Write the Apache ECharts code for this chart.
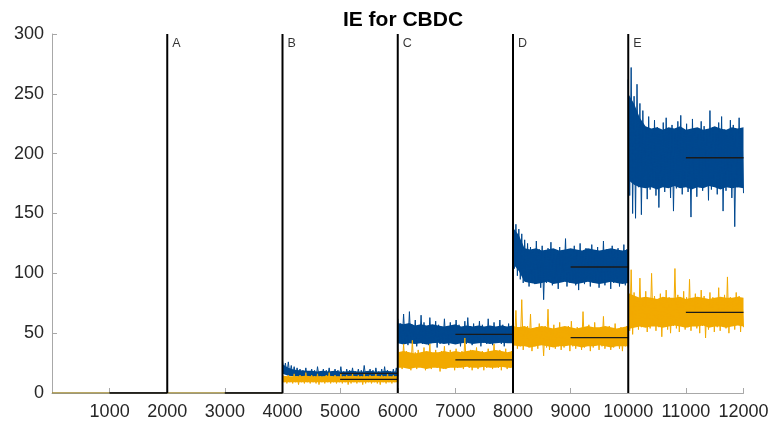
<!DOCTYPE html>
<html>
<head>
<meta charset="utf-8">
<script src="https://cdn.jsdelivr.net/npm/echarts@6/dist/echarts.min.js"></script>
<style>
  html, body { margin: 0; padding: 0; background: #fff; }
  #chart { width: 773px; height: 425px; }
</style>
</head>
<body>
<div id="chart"></div>
<script>
// Segment starts (each stage spans 2000 samples)
const segStarts = [0, 2000, 4000, 6000, 8000, 10000];
const segLength = 2000;

// Stage boundaries and their labels
const stageBounds = [2000, 4000, 6000, 8000, 10000];
const stageNames = ['A', 'B', 'C', 'D', 'E'];

// Axis ticks
const xTicks = [1000, 2000, 3000, 4000, 5000, 6000, 7000, 8000, 9000, 10000, 11000, 12000];
const yTicks = [0, 50, 100, 150, 200, 250, 300];

// Blue trace, one list per stage
const blue0 = [0, 0];
const blue1 = [0, 0];
const blue2 = [27,17,25,16,26,15,23,15,22,14,21,14,20,13,19,14,21,13,18,14,
               20,13,19,12,22,14,18,13,20,13,19,14,21,12,18,13,20,14,19,13,
               22,13,18,12,20,14,19,13,21,13,18,14,20,12,19,13,23,14,18,13,
               20,13,19,12,21,14,18,13,20,13,22,12,19,14,18,13,20,13,21,14];
const blue3 = [62,44,58,41,66,43,55,40,68,42,57,44,61,39,54,42,65,41,59,43,
               56,40,63,42,55,44,60,38,57,41,54,43,62,42,56,40,59,44,55,41,
               61,43,57,39,54,42,60,41,63,44,56,40,58,42,55,43,60,39,57,42,
               54,41,62,43,56,40,59,42,55,44,61,41,57,39,54,43,58,42,56,41];
const blue4 = [146,104,141,98,137,95,133,92,128,96,125,89,122,94,118,91,127,95,120,88,
               123,78,117,92,121,95,126,90,119,94,116,87,122,93,118,96,129,89,120,92,
               117,95,123,90,119,86,125,93,118,91,121,96,116,89,124,92,119,95,122,88,
               117,93,127,90,120,94,118,87,123,92,119,96,121,89,117,93,124,90,120,94];
const blue5 = [262,165,272,150,248,146,258,172,242,149,236,175,221,162,231,170,218,176,228,165,
               222,155,216,174,226,168,230,177,219,163,224,152,217,171,227,176,232,166,220,173,
               225,168,218,147,229,177,221,164,216,172,227,169,223,175,219,161,236,170,222,178,
               217,166,226,173,231,152,220,169,215,176,228,163,224,139,218,172,230,177,221,167];

// Orange trace, one list per stage
const orange0 = [0, 0];
const orange1 = [0, 0];
const orange2 = [16,9,14,8,15,9,13,8,16,9,14,7,15,9,14,8,17,9,13,8,
                 15,9,14,8,16,7,14,9,13,8,15,9,17,8,14,9,15,8,13,9,
                 16,8,14,9,15,7,14,8,16,9,13,8,15,9,14,7,16,8,14,9,
                 15,8,13,9,16,8,14,7,15,9,14,8,16,9,13,8,15,9,14,8];
const orange3 = [37,22,33,20,41,23,35,21,32,19,44,22,34,20,36,23,32,21,38,19,
                 34,22,41,20,33,23,36,21,32,18,35,22,39,20,33,21,36,23,32,19,
                 37,21,34,22,35,20,46,23,33,21,36,19,32,22,38,20,34,23,35,19,
                 33,21,37,22,35,20,41,23,33,21,36,19,32,22,37,20,34,21,35,22];
const orange4 = [62,40,69,37,55,39,78,36,53,40,56,38,66,35,52,39,55,37,58,41,
                 51,31,56,38,70,36,53,40,57,37,51,39,59,36,54,38,52,40,56,35,
                 60,39,53,37,55,40,51,36,68,38,54,41,57,35,52,38,59,40,53,36,
                 55,39,64,37,51,40,56,36,54,38,58,41,52,37,55,35,53,39,56,38];
const orange5 = [90,52,103,49,84,56,79,53,96,55,77,57,85,51,78,54,100,56,81,52,
                 76,55,83,47,79,57,86,53,80,50,77,56,104,54,82,51,78,57,85,53,
                 80,55,95,52,77,57,83,54,79,50,86,56,81,46,78,53,84,57,80,51,
                 76,55,88,52,79,57,82,54,97,50,80,56,77,53,84,57,81,51,78,55];

// Dense core of each trace (top / bottom every 100 samples, stages B-E)
const blueTop2 = [24,21,19.5,19,18.5,18.5,18,18.5,18,18.5,18,18,18.5,18,18,18.5,18,18,18.5,18,18];
const blueBot2 = [16,14.5,14,13.5,13.5,13.5,13.5,13.5,13.5,13.5,13.5,13.5,13.5,13.5,13.5,13.5,13.5,13.5,13.5,13.5,13.5];
const blueTop3 = [58.5,57.5,58.5,56.5,57.5,56.5,57.5,56.5,55.5,56.5,57.5,55.5,56.5,55.5,56.5,55.5,56.5,55.5,56.5,55.5,56.5];
const blueBot3 = [41.5,40.5,41.5,41,41.5,40.5,41.5,42,41,41.5,40.5,41.5,42,41,41.5,42,41,41.5,42,41.5,41.5];
const blueTop4 = [138,132,121,120,121,119,120,121,119,120,121,120,119,121,120,119,120,121,120,119,120];
const blueBot4 = [108,102,93,92,91,92,93,91,92,93,92,91,92,93,92,91,92,93,92,91,92];
const blueTop5 = [250,242,230,223,221,222,220,222,221,223,220,221,222,220,221,223,221,220,222,221,222];
const blueBot5 = [178,174,172,171,172,170,172,171,173,171,172,170,172,171,173,172,170,172,171,172,171];

const orangeTop2 = [14.5,14,14,14,14.5,14,14,14,14.5,14,14,14,14.5,14,14,14,14.5,14,14,14,14];
const orangeBot2 = [9,9,9,9,9,9,9,9,9,9,9,9,9,9,9,9,9,9,9,9,9];
const orangeTop3 = [34,35,34,33,34,35,34,34,35,34,35,34,35,36,35,34,35,36,35,34,35];
const orangeBot3 = [21,21,20,21,21,20,21,21,20,21,21,21,22,21,21,22,21,21,22,21,21];
const orangeTop4 = [56,55,56,54,55,56,55,54,55,56,55,54,55,56,55,55,56,55,54,55,56];
const orangeBot4 = [40,39,39,38,39,40,39,38,39,39,40,39,38,39,39,40,39,38,39,39,39];
const orangeTop5 = [83.5,81.5,79.5,80.5,79.5,78.5,80.5,79.5,79.5,80.5,78.5,79.5,80.5,79.5,78.5,79.5,80.5,79.5,79.5,80.5,79.5];
const orangeBot5 = [53.5,54.5,55.5,54.5,55.5,55.5,54.5,55.5,56.5,55.5,54.5,55.5,55.5,56.5,54.5,55.5,55.5,54.5,55.5,56.5,55.5];

// Steady-state means (second half of each stage)
const blueMeans = [0, 0, 16.4, 49, 105.3, 196.6];
const orangeMeans = [0, 0, 11.4, 27.6, 46.3, 67.4];

const blueSegs = [blue0, blue1, blue2, blue3, blue4, blue5];
const orangeSegs = [orange0, orange1, orange2, orange3, orange4, orange5];
const bandStages = [2, 3, 4, 5];
const blueCore = [[blueTop2, blueBot2], [blueTop3, blueBot3], [blueTop4, blueBot4], [blueTop5, blueBot5]];
const orangeCore = [[orangeTop2, orangeBot2], [orangeTop3, orangeBot3], [orangeTop4, orangeBot4], [orangeTop5, orangeBot5]];

function buildTrace(segs) {
  const out = [];
  segs.forEach((arr, k) => {
    const n = arr.length;
    arr.forEach((v, i) => {
      out.push([segStarts[k] + i * segLength / (n - 1), v]);
    });
  });
  return out;
}

// Filled polygon between the core top and bottom of each stage
function coreBand(core, color, z) {
  return {
    type: 'custom', z: z, silent: true, clip: true,
    data: bandStages.map(k => [segStarts[k], 0]),
    renderItem: (params, api) => {
      const idx = params.dataIndex;
      const start = segStarts[bandStages[idx]];
      const top = core[idx][0], bot = core[idx][1];
      const n = top.length;
      const pts = [];
      for (let i = 0; i < n; i++) pts.push(api.coord([start + i * segLength / (n - 1), top[i]]));
      for (let i = n - 1; i >= 0; i--) pts.push(api.coord([start + i * segLength / (n - 1), bot[i]]));
      return { type: 'polygon', shape: { points: pts }, style: { fill: color } };
    }
  };
}

const BLUE = '#00488f';
const ORANGE = '#f2aa00';
const FONT = "'Liberation Sans', Arial, Helvetica, sans-serif";

const series = [];
series.push(coreBand(blueCore, BLUE, 2));
series.push({
  type: 'line', data: buildTrace(blueSegs), showSymbol: false, symbol: 'none',
  lineStyle: { color: BLUE, width: 1 }, z: 2, silent: true
});
series.push(coreBand(orangeCore, ORANGE, 3));
series.push({
  type: 'line', data: buildTrace(orangeSegs), showSymbol: false, symbol: 'none',
  lineStyle: { color: ORANGE, width: 1 }, z: 3, silent: true
});
// Mean lines over the second half of each stage
[blueMeans, orangeMeans].forEach(means => {
  means.forEach((m, k) => {
    series.push({
      type: 'line', showSymbol: false, symbol: 'none', z: 4, silent: true,
      data: [[segStarts[k] + segLength / 2, m], [segStarts[k] + segLength, m]],
      lineStyle: { color: '#1a1a1a', width: 1.3 }
    });
  });
});
// Stage boundary lines
stageBounds.forEach(b => {
  series.push({
    type: 'line', showSymbol: false, symbol: 'none', z: 5, silent: true,
    data: [[b, 0], [b, 300]],
    lineStyle: { color: '#000', width: 2 }
  });
});
// Stage letters
series.push({
  type: 'scatter', symbolSize: 0, z: 6, silent: true,
  data: stageBounds.map((b, i) => ({ value: [b, 300], name: stageNames[i] })),
  label: {
    show: true, position: 'right', distance: 5, offset: [0, 10],
    formatter: p => p.name, color: '#000', fontSize: 12.5, fontFamily: FONT
  }
});

const chart = echarts.init(document.getElementById('chart'), null, { renderer: 'canvas' });
chart.setOption({
  animation: false,
  backgroundColor: '#fff',
  title: {
    text: 'IE for CBDC', left: 398, textAlign: 'center', top: 5,
    textStyle: { fontSize: 21, fontWeight: 'bold', color: '#000', fontFamily: FONT }
  },
  grid: { left: 52, right: 29.5, top: 34, bottom: 32, containLabel: false },
  xAxis: {
    type: 'value', min: 0, max: 12000, interval: 1000,
    axisLine: { show: true, lineStyle: { color: '#a8a8a8', width: 1 } },
    axisTick: { show: true, inside: true, length: 5, lineStyle: { color: '#a8a8a8' } },
    axisLabel: {
      show: true, margin: 10, interval: 0, color: '#262626', fontSize: 18, fontFamily: FONT,
      formatter: v => (xTicks.indexOf(v) >= 0 ? String(v) : '')
    },
    splitLine: { show: false }
  },
  yAxis: {
    type: 'value', min: 0, max: 300, interval: 50,
    axisLine: { show: true, lineStyle: { color: '#a8a8a8', width: 1 } },
    axisTick: { show: true, inside: true, length: 5, lineStyle: { color: '#a8a8a8' } },
    axisLabel: {
      show: true, margin: 8, color: '#262626', fontSize: 18, fontFamily: FONT,
      formatter: v => (yTicks.indexOf(v) >= 0 ? String(v) : '')
    },
    splitLine: { show: false }
  },
  series: series
});
</script>
</body>
</html>
